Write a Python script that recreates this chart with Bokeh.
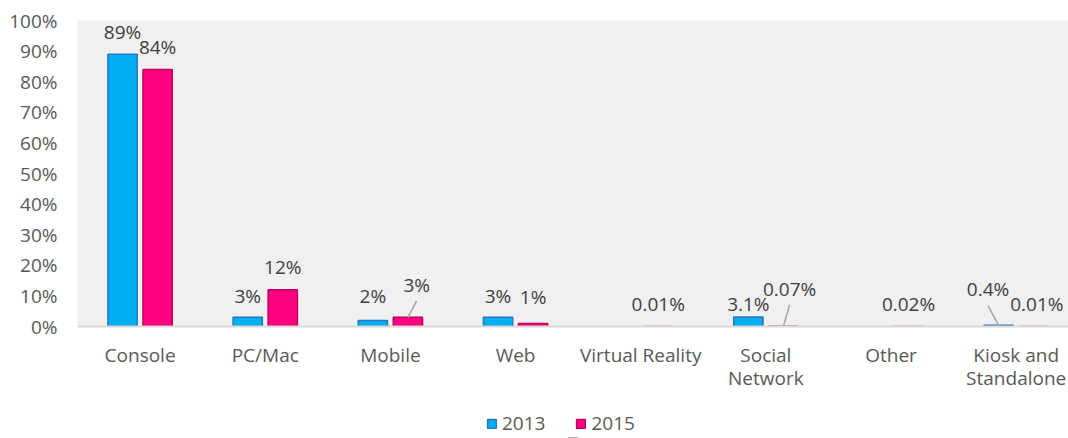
from bokeh.plotting import figure
from bokeh.layouts import column
from bokeh.models import Range1d, FixedTicker, PrintfTickFormatter, ColumnDataSource, Legend, LegendItem
from bokeh.core.properties import value
from bokeh.embed import file_html
from bokeh.resources import INLINE

# ---- data ----
categories = ["Console", "PC/Mac", "Mobile", "Web", "Virtual Reality",
              "Social\nNetwork", "Other", "Kiosk and\nStandalone"]
years = ["2013", "2015"]
NaN = float("nan")
share_2013 = [89, 3, 2, 3, NaN, 3.1, NaN, 0.4]
share_2015 = [84, 12, 3, 1, 0.01, 0.07, 0.02, 0.01]
labels_2013 = ["89%", "3%", "2%", "3%", "", "3.1%", "", "0.4%"]
labels_2015 = ["84%", "12%", "3%", "1%", "0.01%", "0.07%", "0.02%", "0.01%"]
y_ticks = list(range(0, 101, 10))

# label placement (percent units / category units)
label_y_2013 = [96.1, 10.1, 10.1, 10.1, NaN, 7.5, NaN, 12.1]
label_y_2015 = [91.2, 19.3, 13.7, 9.5, 7.5, 12.4, 7.5, 7.2]
label_dx_2013 = [0, 0, 0, 0, 0, 0, 0, -0.085]
label_dx_2015 = [0, 0, 0.07, 0, 0, 0.05, 0, 0.025]
leader_2013 = [False, False, False, False, False, False, False, True]
leader_2015 = [False, False, True, False, False, True, False, False]

FONT = "Open Sans"
FONT_V = value(FONT)
C13, L13 = "#00b0f0", "#2a74c0"
C15, L15 = "#ff0080", "#c0005c"
OFF, BW = 0.14, 0.234

p = figure(width=1068, height=410, output_backend="svg", toolbar_location=None,
           x_range=Range1d(-0.5, 7.418), y_range=Range1d(0, 100),
           min_border_left=77, min_border_right=0, min_border_top=20, min_border_bottom=84)
p.background_fill_color = "#f0f0f0"
p.border_fill_color = "white"
p.outline_line_color = None
p.xgrid.visible = False
p.ygrid.visible = False

idx = list(range(len(categories)))


def series(vals, labels, ly, ldx, lead, off, fill, line):
    xs = [i + off for i in idx]
    src = ColumnDataSource(dict(x=xs, top=vals))
    r = p.vbar(x="x", top="top", bottom=0, width=BW, source=src,
               fill_color=fill, line_color=line, line_width=1.5)
    lx = [x + d for x, d in zip(xs, ldx)]
    tsrc = ColumnDataSource(dict(x=lx, y=ly, t=labels))
    p.text(x="x", y="y", text="t", source=tsrc, text_align="center",
           text_baseline="middle", text_font=FONT_V, text_font_size="19px",
           text_color="#404040")
    sx0 = [lx[i] for i in idx if lead[i]]
    sy0 = [ly[i] - 5.3 for i in idx if lead[i]]
    sx1 = [xs[i] for i in idx if lead[i]]
    sy1 = [vals[i] for i in idx if lead[i]]
    if sx0:
        p.segment(x0=sx0, y0=sy0, x1=sx1, y1=sy1, line_color="#a6a6a6", line_width=1.5)
    return r


series(share_2013, labels_2013, label_y_2013, label_dx_2013, leader_2013, -OFF, C13, L13)
series(share_2015, labels_2015, label_y_2015, label_dx_2015, leader_2015, OFF, C15, L15)

# axes
xa = p.xaxis[0]
xa.ticker = FixedTicker(ticks=idx)
xa.major_label_overrides = {i: c for i, c in zip(idx, categories)}
xa.axis_line_color = "#d9d9d9"
xa.axis_line_width = 2
xa.major_tick_line_color = None
xa.minor_tick_line_color = None
xa.major_tick_out = 0
xa.major_tick_in = 0
xa.major_label_standoff = 15
xa.major_label_text_font = FONT
xa.major_label_text_font_size = "19px"
xa.major_label_text_color = "#595959"
xa.major_label_text_line_height = 0.9

ya = p.yaxis[0]
ya.ticker = FixedTicker(ticks=y_ticks)
ya.formatter = PrintfTickFormatter(format="%d%%")
ya.axis_line_color = None
ya.major_tick_line_color = None
ya.minor_tick_line_color = None
ya.major_tick_out = 0
ya.major_tick_in = 0
ya.major_label_standoff = 20
ya.major_label_text_font = FONT
ya.major_label_text_font_size = "19px"
ya.major_label_text_color = "#595959"

# legend strip (swatch proxies sit just below the strip's visible range)
pl = figure(width=1068, height=28, output_backend="svg", toolbar_location=None,
            x_range=Range1d(0, 1), y_range=Range1d(0, 1),
            min_border_left=0, min_border_right=0, min_border_top=0, min_border_bottom=0)
pl.outline_line_color = None
pl.axis.visible = False
pl.xgrid.visible = False
pl.ygrid.visible = False
lr13 = pl.vbar(x=[0.5], top=[-0.3], bottom=[-0.5], width=0.01,
               fill_color=C13, line_color=L13, line_width=1.5)
lr15 = pl.vbar(x=[0.5], top=[-0.3], bottom=[-0.5], width=0.01,
               fill_color=C15, line_color=L15, line_width=1.5)
legend = Legend(items=[LegendItem(label=years[0], renderers=[lr13]),
                       LegendItem(label=years[1], renderers=[lr15])],
                orientation="horizontal", location=(409, 2),
                glyph_width=11, glyph_height=11, label_standoff=5, spacing=30,
                padding=0, margin=0, border_line_color=None, background_fill_alpha=0,
                label_text_font=FONT, label_text_font_size="19px", label_text_color="#595959")
pl.add_layout(legend, "center")

page = column(p, pl, spacing=0)
open("out.html", "w").write(file_html(page, INLINE))
